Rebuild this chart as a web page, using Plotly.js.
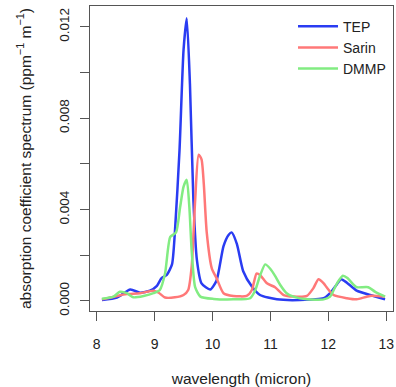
<!DOCTYPE html>
<html><head><meta charset="utf-8">
<script src="https://cdn.plot.ly/plotly-3.0.1.min.js"></script>
<style>html,body{margin:0;padding:0;background:#fff}</style>
</head><body><div id="chart" style="width:396px;height:387px"></div>
<script>
const tepX = [8.09,8.35,8.58,8.75,8.92,9.04,9.12,9.21,9.30,9.35,9.43,9.50,9.555,9.61,9.67,9.73,9.81,9.96,10.07,10.19,10.28,10.33,10.42,10.53,10.68,10.82,11.11,11.51,11.92,12.03,12.14,12.22,12.32,12.49,12.72,12.98];
const tepY = [0.00004,0.00015,0.0005,0.00036,0.00045,0.00066,0.001,0.00114,0.0016,0.003,0.0066,0.011,0.01237,0.0095,0.0044,0.0018,0.00077,0.0005,0.0009,0.0024,0.0029,0.003,0.0025,0.0013,0.00063,0.00026,0.00007,0.00004,0.00012,0.00034,0.0007,0.00095,0.0008,0.00045,0.00026,0.00007];
const sarinX = [8.09,8.35,8.52,8.75,8.98,9.07,9.18,9.35,9.50,9.58,9.64,9.70,9.76,9.81,9.85,9.90,9.99,10.07,10.19,10.36,10.59,10.68,10.76,10.82,10.94,11.08,11.23,11.40,11.63,11.74,11.83,11.92,11.97,12.09,12.32,12.49,12.72,12.98];
const sarinY = [0.00007,0.00022,0.0003,0.00034,0.00045,0.00036,0.00015,0.00016,0.00026,0.00048,0.0015,0.0044,0.0064,0.0062,0.0051,0.003,0.0014,0.001,0.00034,0.00022,0.00022,0.00048,0.0012,0.00114,0.00077,0.0006,0.00026,0.00019,0.00022,0.00055,0.00095,0.00077,0.0006,0.00026,0.00012,0.00007,0.00022,0.00019];
const dmmpX = [8.09,8.29,8.40,8.52,8.63,8.81,8.98,9.09,9.18,9.27,9.37,9.44,9.50,9.555,9.60,9.64,9.70,9.79,10.02,10.36,10.65,10.74,10.82,10.91,11.00,11.08,11.17,11.28,11.40,11.63,11.92,12.03,12.15,12.25,12.33,12.44,12.49,12.69,12.81,12.98];
const dmmpY = [0.0001,0.00019,0.0004,0.00034,0.00016,0.00022,0.00034,0.00048,0.0012,0.0028,0.003,0.0041,0.005,0.0053,0.0041,0.0022,0.0006,0.00019,0.00009,0.00007,0.00012,0.00048,0.0011,0.0016,0.0014,0.0011,0.0007,0.00034,0.00019,0.00007,0.00007,0.00019,0.00077,0.0011,0.001,0.0007,0.0006,0.0006,0.0004,0.00019];
const xTicks = [8,9,10,11,12,13];
const yTicks = [0,0.002,0.004,0.006,0.008,0.010,0.012];
const yTickText = ['0.000','','0.004','','0.008','','0.012'];

const font = 'Liberation Sans, Arial, sans-serif';
const traces = [
  {x: tepX, y: tepY, name: 'TEP', mode: 'lines', line: {color: '#2a3cf2', width: 2.5, shape: 'spline', smoothing: 0.6}},
  {x: sarinX, y: sarinY, name: 'Sarin', mode: 'lines', line: {color: '#ff7878', width: 2.5, shape: 'spline', smoothing: 0.6}},
  {x: dmmpX, y: dmmpY, name: 'DMMP', mode: 'lines', line: {color: '#82ec82', width: 2.5, shape: 'spline', smoothing: 0.6}}
];
const layout = {
  width: 396, height: 387,
  margin: {l: 90, r: 3, t: 6, b: 76},
  paper_bgcolor: '#fff', plot_bgcolor: '#fff',
  font: {family: font, size: 13, color: '#222'},
  showlegend: true,
  legend: {x: 0.67, y: 0.985, xanchor: 'left', yanchor: 'top', itemwidth: 40, bgcolor: 'rgba(0,0,0,0)', font: {size: 14, color: '#222'}},
  xaxis: {range: [7.884, 13.117], tickvals: xTicks, ticks: 'outside', ticklen: 9, tickcolor: '#555',
    ticklabelstandoff: 11,
    showline: true, mirror: true, linecolor: '#555', linewidth: 1, showgrid: false, zeroline: false,
    tickfont: {size: 14, color: '#222'},
    title: {text: 'wavelength (micron)', font: {size: 15.5, color: '#222'}, standoff: 22}},
  yaxis: {range: [-0.00044, 0.01291], tickvals: yTicks, ticktext: yTickText, ticks: 'outside', ticklen: 9, tickcolor: '#555',
    ticklabelstandoff: 6,
    tickangle: -90, showline: true, mirror: true, linecolor: '#555', linewidth: 1, showgrid: false, zeroline: false,
    tickfont: {size: 13.5, color: '#222'},
    title: {text: 'absorption coefficient spectrum (ppm<sup>−1</sup> m<sup>−1</sup>)', font: {size: 15.5, color: '#222'}, standoff: 21}}
};
Plotly.newPlot('chart', traces, layout, {displayModeBar: false, staticPlot: true});
</script></body></html>
